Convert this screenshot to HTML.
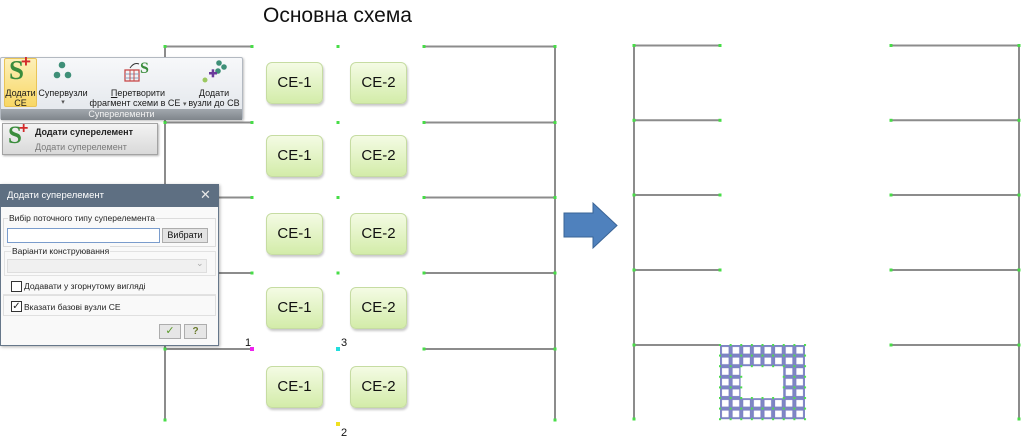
<!DOCTYPE html>
<html><head><meta charset="utf-8">
<style>
*{margin:0;padding:0;box-sizing:border-box}
body{width:1024px;height:438px;background:#fff;overflow:hidden;font-family:"Liberation Sans","DejaVu Sans",sans-serif}
#w{position:relative;width:1024px;height:438px;overflow:hidden}
.abs{position:absolute}
.ce{position:absolute;width:57px;height:42px;border:1px solid #c6dca2;border-radius:6px;background:linear-gradient(#f4fbe4,#d3eca9);box-shadow:1px 2px 2px rgba(0,0,0,.22);font-size:15px;color:#111;text-align:center;line-height:40px}
.rt{position:absolute;font-size:9px;color:#1a1a1a;white-space:nowrap;text-align:center;line-height:10px}
.dt{position:absolute;font-size:8.5px;color:#222;white-space:nowrap;line-height:10px}
</style></head><body><div id="w">

<svg class="abs" style="left:0;top:0" width="1024" height="438" viewBox="0 0 1024 438">
<defs>
<pattern id="cell" patternUnits="userSpaceOnUse" x="720" y="345" width="10.625" height="10.6">
<rect x="1" y="1" width="8.6" height="8.6" fill="#fff" stroke="#7d84c4" stroke-width="2"/>
</pattern>
<pattern id="dots" patternUnits="userSpaceOnUse" x="719" y="344" width="10.625" height="10.6">
<rect x="0" y="0" width="2" height="2" fill="#4bdc4b"/>
</pattern>
</defs>
<g stroke="#8c8c8c" stroke-width="2" fill="none">
<!-- left frame -->
<line x1="165" y1="46.5" x2="165" y2="420"/>
<line x1="555" y1="46.5" x2="555" y2="420"/>
<line x1="165" y1="46.5" x2="252" y2="46.5"/><line x1="424" y1="46.5" x2="555" y2="46.5"/>
<line x1="165" y1="122.5" x2="252" y2="122.5"/><line x1="424" y1="122.5" x2="555" y2="122.5"/>
<line x1="165" y1="197.5" x2="252" y2="197.5"/><line x1="424" y1="197.5" x2="555" y2="197.5"/>
<line x1="165" y1="273" x2="252" y2="273"/><line x1="424" y1="273" x2="555" y2="273"/>
<line x1="165" y1="349" x2="252" y2="349"/><line x1="424" y1="349" x2="555" y2="349"/>
<!-- right frame -->
<line x1="634" y1="45.5" x2="634" y2="419"/>
<line x1="1019" y1="45.5" x2="1019" y2="419"/>
<line x1="634" y1="45.5" x2="720" y2="45.5"/><line x1="891" y1="45.5" x2="1019" y2="45.5"/>
<line x1="634" y1="120.3" x2="720" y2="120.3"/><line x1="891" y1="120.3" x2="1019" y2="120.3"/>
<line x1="634" y1="195" x2="720" y2="195"/><line x1="891" y1="195" x2="1019" y2="195"/>
<line x1="634" y1="270" x2="720" y2="270"/><line x1="891" y1="270" x2="1019" y2="270"/>
<line x1="634" y1="345" x2="720" y2="345"/><line x1="891" y1="345" x2="1019" y2="345"/>
</g>
<g fill="#47dd47">
<rect x="163.5" y="45" width="3" height="3"/><rect x="250.5" y="45" width="3" height="3"/><rect x="336.5" y="45" width="3" height="3"/><rect x="422.5" y="45" width="3" height="3"/><rect x="553.5" y="45" width="3" height="3"/>
<rect x="163.5" y="121" width="3" height="3"/><rect x="250.5" y="121" width="3" height="3"/><rect x="336.5" y="121" width="3" height="3"/><rect x="422.5" y="121" width="3" height="3"/><rect x="553.5" y="121" width="3" height="3"/>
<rect x="163.5" y="196" width="3" height="3"/><rect x="250.5" y="196" width="3" height="3"/><rect x="336.5" y="196" width="3" height="3"/><rect x="422.5" y="196" width="3" height="3"/><rect x="553.5" y="196" width="3" height="3"/>
<rect x="163.5" y="271.5" width="3" height="3"/><rect x="250.5" y="271.5" width="3" height="3"/><rect x="336.5" y="271.5" width="3" height="3"/><rect x="422.5" y="271.5" width="3" height="3"/><rect x="553.5" y="271.5" width="3" height="3"/>
<rect x="163.5" y="347.5" width="3" height="3"/><rect x="422.5" y="347.5" width="3" height="3"/><rect x="553.5" y="347.5" width="3" height="3"/>
<rect x="632.5" y="44" width="3" height="3"/><rect x="718.5" y="44" width="3" height="3"/><rect x="889.5" y="44" width="3" height="3"/><rect x="1017.5" y="44" width="3" height="3"/>
<rect x="632.5" y="118.8" width="3" height="3"/><rect x="718.5" y="118.8" width="3" height="3"/><rect x="889.5" y="118.8" width="3" height="3"/><rect x="1017.5" y="118.8" width="3" height="3"/>
<rect x="632.5" y="193.5" width="3" height="3"/><rect x="718.5" y="193.5" width="3" height="3"/><rect x="889.5" y="193.5" width="3" height="3"/><rect x="1017.5" y="193.5" width="3" height="3"/>
<rect x="632.5" y="268.5" width="3" height="3"/><rect x="718.5" y="268.5" width="3" height="3"/><rect x="889.5" y="268.5" width="3" height="3"/><rect x="1017.5" y="268.5" width="3" height="3"/>
<rect x="632.5" y="343.5" width="3" height="3"/><rect x="889.5" y="343.5" width="3" height="3"/><rect x="1017.5" y="343.5" width="3" height="3"/>
<rect x="632.5" y="417.5" width="3" height="3"/><rect x="1017.5" y="417.5" width="3" height="3"/>
<rect x="163.5" y="418.5" width="3" height="3"/><rect x="553.5" y="418.5" width="3" height="3"/>
</g>
<rect x="250" y="347" width="4" height="4" fill="#ee22ee"/>
<rect x="336" y="347" width="4" height="4" fill="#22dddd"/>
<rect x="336" y="422" width="4" height="4" fill="#f0e020"/>
<text x="245" y="346" font-family="Liberation Sans,sans-serif" font-size="11" fill="#111">1</text>
<text x="341" y="346" font-family="Liberation Sans,sans-serif" font-size="11" fill="#111">3</text>
<text x="341" y="436" font-family="Liberation Sans,sans-serif" font-size="11" fill="#111">2</text>
<!-- arrow -->
<polygon points="564,213 593,213 593,203 617,225.5 593,248 593,237 564,237" fill="#4f81bd" stroke="#3a6496" stroke-width="1"/>
<!-- mesh -->
<rect x="720" y="345" width="85" height="74.2" fill="url(#cell)"/>
<rect x="740.6" y="366.2" width="42.6" height="32" fill="#fff"/>
<rect x="719" y="344" width="88" height="77" fill="url(#dots)"/>
<rect x="743" y="368.5" width="38" height="27.5" fill="#fff"/>
</svg>

<div class="abs" style="left:263px;top:4px;font-size:21px;color:#111;white-space:nowrap">Основна схема</div>

<!-- CE boxes -->
<div class="ce" style="left:266px;top:62px">CE-1</div><div class="ce" style="left:350px;top:62px">CE-2</div>
<div class="ce" style="left:266px;top:135px">CE-1</div><div class="ce" style="left:350px;top:135px">CE-2</div>
<div class="ce" style="left:266px;top:213px">CE-1</div><div class="ce" style="left:350px;top:213px">CE-2</div>
<div class="ce" style="left:266px;top:287px">CE-1</div><div class="ce" style="left:350px;top:287px">CE-2</div>
<div class="ce" style="left:266px;top:366px">CE-1</div><div class="ce" style="left:350px;top:366px">CE-2</div>

<!-- Ribbon -->
<div class="abs" style="left:0;top:57px;width:243px;height:63px;background:linear-gradient(#f7f8fa,#e2e6eb);border:1px solid #b3b9c1;border-radius:2px;box-shadow:1px 1px 2px rgba(0,0,0,.25)"></div>
<div class="abs" style="left:4px;top:58px;width:33px;height:49px;background:linear-gradient(#fdf0b8,#f8d765);border:1px solid #e9c457;border-radius:2px"></div>
<div class="abs" style="left:9px;top:55px;font-family:'Liberation Serif',serif;font-weight:bold;font-size:27px;color:#3a8c3c">S</div>
<div class="abs" style="left:21px;top:52px;font-weight:bold;font-size:17px;color:#d42a2a">+</div>
<svg class="abs" style="left:50px;top:60px" width="28" height="22"><circle cx="12" cy="5" r="3.3" fill="#3f8f78"/><circle cx="7" cy="15" r="3.3" fill="#3f8f78"/><circle cx="18" cy="15" r="3.3" fill="#3f8f78"/></svg>
<svg class="abs" style="left:122px;top:58px" width="32" height="26"><rect x="3" y="12" width="14" height="11" fill="none" stroke="#c84a4a" stroke-width="1.3"/><line x1="3" y1="16" x2="17" y2="16" stroke="#8aa0c0"/><line x1="3" y1="20" x2="17" y2="20" stroke="#8aa0c0"/><line x1="8" y1="12" x2="8" y2="23" stroke="#c84a4a"/><line x1="12" y1="12" x2="12" y2="23" stroke="#c84a4a"/><path d="M8 10 Q12 4 17 6" fill="none" stroke="#333" stroke-width="1"/><text x="18" y="15" font-family="Liberation Serif,serif" font-weight="bold" font-size="16" fill="#3a8c3c">S</text></svg>
<svg class="abs" style="left:200px;top:58px" width="28" height="26"><circle cx="19" cy="5" r="2.8" fill="#3f8f78"/><circle cx="24" cy="9" r="2.8" fill="#3f8f78"/><circle cx="18" cy="13" r="2.8" fill="#3f8f78"/><circle cx="5" cy="22" r="2.5" fill="#9bc860"/><rect x="9" y="14" width="8" height="2.5" fill="#6a3a9a"/><rect x="11.7" y="11.3" width="2.5" height="8" fill="#6a3a9a"/></svg>
<div class="rt" style="left:4px;top:88px;width:33px"><u>Д</u>одати</div>
<div class="rt" style="left:4px;top:98px;width:33px">СЕ</div>
<div class="rt" style="left:38px;top:88px;width:50px">Супервузли</div>
<div class="rt" style="left:38px;top:98px;width:50px;font-size:7px;color:#555">▾</div>
<div class="rt" style="left:90px;top:88px;width:96px"><u>П</u>еретворити</div>
<div class="rt" style="left:88px;top:98px;width:100px">фрагмент схеми в СЕ <span style="font-size:7px;color:#555">▾</span></div>
<div class="rt" style="left:188px;top:88px;width:52px"><u>Д</u>одати</div>
<div class="rt" style="left:188px;top:98px;width:52px">вузли до СВ</div>
<div class="abs" style="left:1px;top:109px;width:241px;height:11px;background:linear-gradient(#a2a8ae,#7f858b);color:#f2f2f2;font-size:9px;text-align:center;line-height:11px">Суперелементи</div>

<!-- Dropdown item -->
<div class="abs" style="left:2px;top:123px;width:156px;height:32px;background:linear-gradient(#f3f3f3,#d9d9d9);border:1px solid #a3a3a3;box-shadow:1px 1px 2px rgba(0,0,0,.3)"></div>
<div class="abs" style="left:8px;top:122px;font-family:'Liberation Serif',serif;font-weight:bold;font-size:25px;color:#3a8c3c">S</div>
<div class="abs" style="left:19px;top:120px;font-weight:bold;font-size:16px;color:#d42a2a">+</div>
<div class="abs" style="left:35px;top:127px;font-size:9px;font-weight:bold;color:#222;white-space:nowrap">Додати суперелемент</div>
<div class="abs" style="left:35px;top:142px;font-size:9px;color:#7a7a7a;white-space:nowrap">Додати суперелемент</div>

<!-- Dialog -->
<div class="abs" style="left:0;top:184px;width:219px;height:162px;background:#f9f9f9;border:1px solid #66778a;box-shadow:1px 1px 3px rgba(0,0,0,.3)"></div>
<div class="abs" style="left:0;top:184px;width:219px;height:23px;background:#5e6f82"></div>
<div class="abs" style="left:7px;top:190px;font-size:9.5px;color:#fff;white-space:nowrap">Додати суперелемент</div>
<div class="abs" style="left:200px;top:187px;font-size:13px;color:#e8e8e8">✕</div>
<div class="abs" style="left:3px;top:218px;width:213px;height:29px;border:1px solid #dcdcdc"></div>
<div class="dt" style="left:8px;top:213px;background:#f9f9f9;padding:0 1px">Вибір поточного типу суперелемента</div>
<div class="abs" style="left:7px;top:228px;width:153px;height:15px;border:1px solid #7a9ccc;background:#fff"></div>
<div class="abs" style="left:162px;top:228px;width:46px;height:15px;border:1px solid #adadad;background:#e3e3e3;font-size:9px;text-align:center;line-height:13px;color:#111">Вибрати</div>
<div class="abs" style="left:4px;top:251px;width:212px;height:25px;border:1px solid #e2e2e2"></div>
<div class="dt" style="left:11px;top:246px;background:#f9f9f9;padding:0 1px">Варіанти конструювання</div>
<div class="abs" style="left:7px;top:259px;width:200px;height:14px;border:1px solid #dedede;background:#f0f0f0"></div>
<div class="abs" style="left:196px;top:258px;font-size:9px;color:#aaa">⌄</div>
<div class="abs" style="left:3px;top:278px;width:213px;height:17px;border-bottom:1px solid #e2e2e2"></div>
<div class="abs" style="left:11px;top:281px;width:11px;height:11px;border:1px solid #333;background:#fff"></div>
<div class="dt" style="left:24px;top:281px">Додавати у згорнутому вигляді</div>
<div class="abs" style="left:3px;top:295px;width:213px;height:21px;border:1px solid #e0e0e0"></div>
<div class="abs" style="left:11px;top:301px;width:11px;height:11px;border:1px solid #333;background:#fff;font-size:10px;line-height:9px;text-align:center;color:#222">✓</div>
<div class="dt" style="left:24px;top:302px">Вказати базові вузли СЕ</div>
<div class="abs" style="left:159px;top:324px;width:22px;height:15px;border:1px solid #adadad;background:#e6e6e6;font-size:11px;text-align:center;line-height:13px;color:#5a9a2a;font-weight:bold">✓</div>
<div class="abs" style="left:184px;top:324px;width:23px;height:15px;border:1px solid #adadad;background:#e6e6e6;font-size:10px;text-align:center;line-height:13px;color:#6a7a2a;font-weight:bold">?</div>

</div></body></html>
